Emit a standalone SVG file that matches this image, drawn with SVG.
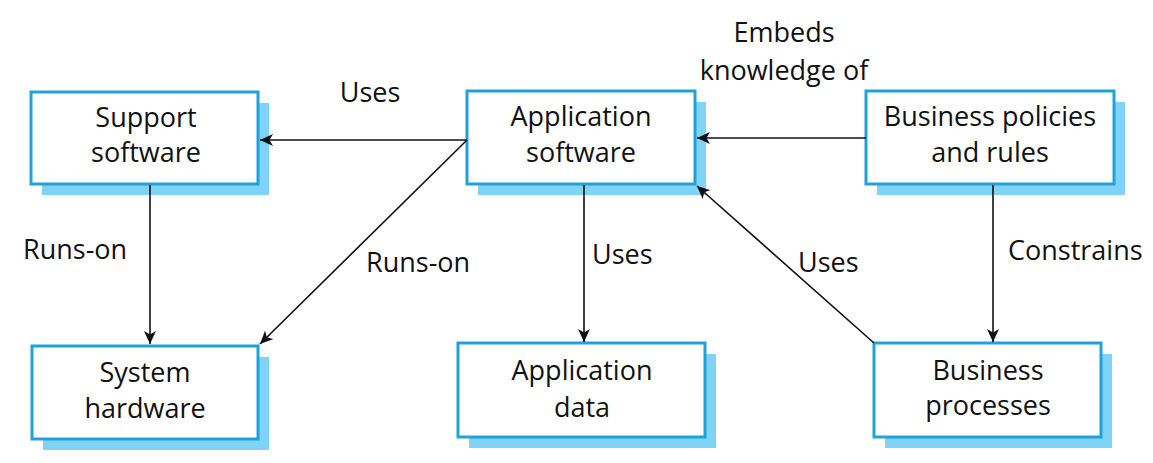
<svg xmlns="http://www.w3.org/2000/svg" width="1153" height="463" viewBox="0 0 1153 463">
<style>
.shadow{fill:#7fd3f5;stroke:none}
.box{fill:#ffffff;stroke:#1ea2dc;stroke-width:3}
text{font-family:"Open Sans","Noto Sans",sans-serif;font-size:27px;fill:#111111}
.c{text-anchor:middle}
.conn line{stroke:#111111;stroke-width:1.6;fill:none;marker-end:url(#arr)}
</style>
<defs>
<marker id="arr" markerUnits="userSpaceOnUse" markerWidth="14" markerHeight="12" refX="13" refY="6" orient="auto" viewBox="0 0 14 12">
<path d="M0,0 L13,6 L0,12 L3.5,6 Z" fill="#111111"/>
</marker>
</defs>
<rect width="1153" height="463" fill="#ffffff"/>
<g id="support-software">
<rect class="shadow" x="42" y="103" width="227" height="92"/>
<rect class="box" x="31" y="92" width="227" height="92"/>
<text class="c" x="146" y="127">Support</text>
<text class="c" x="146" y="162">software</text>
</g>
<g id="application-software">
<rect class="shadow" x="478" y="102" width="228" height="93"/>
<rect class="box" x="467" y="91" width="228" height="93"/>
<text class="c" x="581" y="126">Application</text>
<text class="c" x="581" y="162">software</text>
</g>
<g id="business-policies">
<rect class="shadow" x="877" y="102" width="248" height="93"/>
<rect class="box" x="866" y="91" width="248" height="93"/>
<text class="c" x="990" y="126">Business policies</text>
<text class="c" x="990" y="162">and rules</text>
</g>
<g id="system-hardware">
<rect class="shadow" x="43" y="357" width="226" height="93"/>
<rect class="box" x="32" y="346" width="226" height="93"/>
<text class="c" x="145" y="382">System</text>
<text class="c" x="145" y="418">hardware</text>
</g>
<g id="application-data">
<rect class="shadow" x="469" y="354" width="247" height="94"/>
<rect class="box" x="458" y="343" width="247" height="94"/>
<text class="c" x="582" y="380">Application</text>
<text class="c" x="582" y="417">data</text>
</g>
<g id="business-processes">
<rect class="shadow" x="885" y="354" width="227" height="94"/>
<rect class="box" x="874" y="343" width="227" height="94"/>
<text class="c" x="988" y="380">Business</text>
<text class="c" x="988" y="415">processes</text>
</g>
<g class="conn" id="connectors">
<line x1="467" y1="140" x2="260" y2="140"/>
<line x1="467" y1="140" x2="260" y2="344"/>
<line x1="150" y1="185" x2="150" y2="344"/>
<line x1="584" y1="185" x2="584" y2="342"/>
<line x1="866" y1="138" x2="697" y2="138"/>
<line x1="874" y1="343" x2="697" y2="186"/>
<line x1="993" y1="185" x2="993" y2="342"/>
</g>
<g id="labels">
<text class="c" x="370" y="102">Uses</text>
<text class="c" x="784" y="42">Embeds</text>
<text class="c" x="784" y="80">knowledge of</text>
<text x="23" y="259">Runs-on</text>
<text x="366" y="272">Runs-on</text>
<text x="592" y="264">Uses</text>
<text x="798" y="272">Uses</text>
<text x="1008" y="260">Constrains</text>
</g>
</svg>
